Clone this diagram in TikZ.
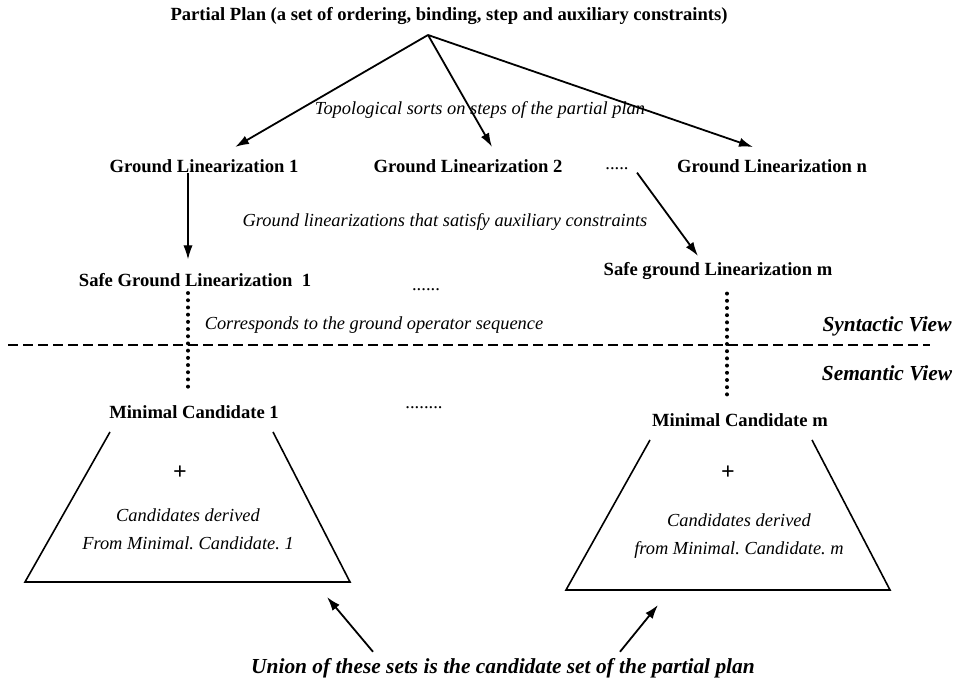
\documentclass[tikz,border=0pt]{standalone}
\usepackage{fontspec}
\setmainfont{Liberation Serif}
\usepackage{tikz}
\usetikzlibrary{
  arrows.meta,
  positioning
}
\frenchspacing
\tikzset{
  plannode/.style={font=\fontsize{9.3}{11}\selectfont\bfseries,inner sep=3pt},
  notetext/.style={font=\fontsize{9.2}{14}\selectfont\itshape,align=center,inner sep=1pt},
  viewtext/.style={font=\fontsize{10.7}{13}\selectfont\bfseries\itshape,inner sep=3pt},
  dotsnode/.style={font=\fontsize{9.3}{11}\selectfont,inner sep=1pt,anchor=base},
  plusnode/.style={font=\fontsize{12}{14}\selectfont\bfseries,inner sep=1pt},
  linkarrow/.style={-{Latex[length=7pt,width=4.6pt]},line width=0.9pt},
  thinarrow/.style={-{Latex[length=7pt,width=4.6pt]},line width=0.6pt},
  corrline/.style={line width=2pt,line cap=round,dash pattern=on 0pt off 3.6pt},
  setedge/.style={line width=0.8pt},
  viewsplit/.style={line width=0.75pt,dash pattern=on 5pt off 2.5pt}
}
\begin{document}
\begin{tikzpicture}[x=0.5pt,y=-0.5pt]
\useasboundingbox (0,0) rectangle (966,683);

\node[plannode] (plan) at (449,16) {Partial Plan (a set of ordering, binding, step and auxiliary constraints)};
\coordinate (apex) at ([xshift=-10.5pt,yshift=-2pt]plan.south);

\node[notetext] (topo) at (480,110) {Topological sorts on steps of the partial plan};
\node[plannode] (gl1) at (204,166) {Ground Linearization 1};
\node[plannode] (gl2) at (468,166) {Ground Linearization 2};
\node[dotsnode] (dotsn) at (617,170) {.....};
\node[plannode] (gln) at (772,166) {Ground Linearization n};

\node[notetext] (satisfy) at (445,222) {Ground linearizations that satisfy auxiliary constraints};
\node[plannode] (sgl1) at (195,280) {Safe Ground Linearization~~1};
\node[dotsnode] (dotsm) at (426,291) {......};
\node[plannode] (sglm) at (718,271) {Safe ground Linearization m};

\node[notetext] (corr) at (374,325) {Corresponds to the ground operator sequence};
\node[viewtext] (synview) at (887,326) {Syntactic View};
\node[viewtext, below=8.5pt of synview] (semview) {Semantic View};

\node[plannode] (mc1) at (194,412) {Minimal Candidate 1};
\node[dotsnode] (dotsc) at (424,409) {........};
\node[plannode] (mcm) at (740,420) {Minimal Candidate m};

\node[plusnode] (plus1) at (180,473) {+};
\node[plusnode] (plusm) at (728,473) {+};
\node[notetext] (derived1) at (188,529) {Candidates derived\\From Minimal. Candidate. 1};
\node[notetext] (derivedm) at (739,536) {Candidates derived\\from Minimal. Candidate. m};

\node[viewtext] (union) at (503,668) {Union of these sets is the candidate set of the partial plan};
\coordinate (set1) at (327,597);
\coordinate (setm) at (658,605);

\draw[linkarrow] (apex) -- ([xshift=15.5pt,yshift=3pt]gl1.north);
\draw[linkarrow] (apex) -- ([xshift=12pt,yshift=3pt]gl2.north);
\draw[linkarrow] (apex) -- ([xshift=-9.5pt,yshift=3pt]gln.north);
\draw[thinarrow] ([xshift=-8pt,yshift=3pt]gl1.south) -- ([xshift=-3.5pt,yshift=3.8pt]sgl1.north);
\draw[linkarrow] ([xshift=3pt]dotsn.south east) -- ([xshift=-10pt]sglm.north);

\draw[corrline] ([xshift=-3.5pt]sgl1.south) -- ([xshift=-3pt,yshift=4pt]mc1.north);
\draw[corrline] ([xshift=4.5pt,yshift=-3.8pt]sglm.south) -- ([xshift=-6.5pt,yshift=2.8pt]mcm.north);
\draw[viewsplit] (8,345) -- (930,345);

\draw[setedge] (110,432) -- (25,582) -- (350,582) -- (273,432);
\draw[setedge] (650,440) -- (566,590) -- (890,590) -- (812,440);

\draw[linkarrow] ([xshift=-65pt]union.north) -- (set1);
\draw[linkarrow] ([xshift=58.5pt]union.north) -- (setm);
\end{tikzpicture}
\end{document}
